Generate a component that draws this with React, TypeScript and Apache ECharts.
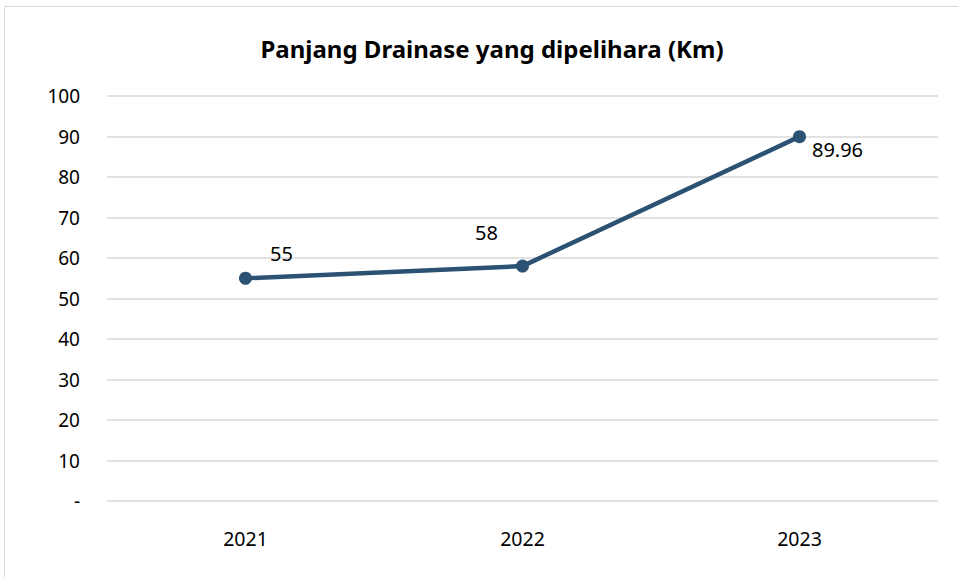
import React, { useEffect, useRef } from "react";
import * as echarts from "echarts";

const categories = ["2021", "2022", "2023"];
const values = [55, 58, 89.96];
const labelOffsets = [
  [36, -25],
  [-36, -34],
  [38, 13],
];

const FONT = "'Noto Sans', 'Open Sans', sans-serif";

export default function App() {
  const ref = useRef<HTMLDivElement>(null);
  useEffect(() => {
    const chart = echarts.init(ref.current!, undefined, { renderer: "svg" });
    chart.setOption({
      animation: false,
      backgroundColor: "#ffffff",
      title: {
        text: "Panjang Drainase yang dipelihara (Km)",
        left: 487,
        top: 31,
        textAlign: "center",
        textStyle: { fontFamily: FONT, fontSize: 24, fontWeight: "bold", color: "#000" },
      },
      graphic: [
        {
          type: "rect",
          shape: { x: 4.5, y: 6.5, width: 1000, height: 1000 },
          style: { fill: "none", stroke: "#d9d9d9", lineWidth: 1 },
        },
      ],
      grid: { left: 107, right: 20, top: 96, bottom: 76 },
      xAxis: {
        type: "category",
        data: categories,
        boundaryGap: true,
        axisLine: { show: false },
        axisTick: { show: false },
        axisLabel: { fontFamily: FONT, fontSize: 19.5, color: "#000", margin: 27 },
      },
      yAxis: {
        type: "value",
        min: 0,
        max: 100,
        interval: 10,
        axisLine: { show: false },
        axisTick: { show: false },
        splitLine: { lineStyle: { color: "#d9d9d9", width: 1.5 } },
        axisLabel: {
          fontFamily: FONT,
          fontSize: 19,
          color: "#000",
          margin: 27,
          formatter: (v: number) => (v === 0 ? "-" : String(v)),
        },
      },
      series: [
        {
          type: "line",
          data: values.map((v, i) => ({
            value: v,
            label: {
              show: true,
              position: "inside",
              offset: labelOffsets[i],
              align: "center",
              verticalAlign: "middle",
              fontFamily: FONT,
              fontSize: 20,
              color: "#000",
              formatter: (p: any) => String(p.value),
            },
          })),
          lineStyle: { color: "#2c5273", width: 4.5 },
          itemStyle: { color: "#2c5273" },
          symbol: "circle",
          symbolSize: 13,
        },
      ],
    });
    return () => chart.dispose();
  }, []);
  return (
    <div
      ref={ref}
      style={{ position: "fixed", left: 0, top: 0, width: 958, height: 577 }}
    />
  );
}
